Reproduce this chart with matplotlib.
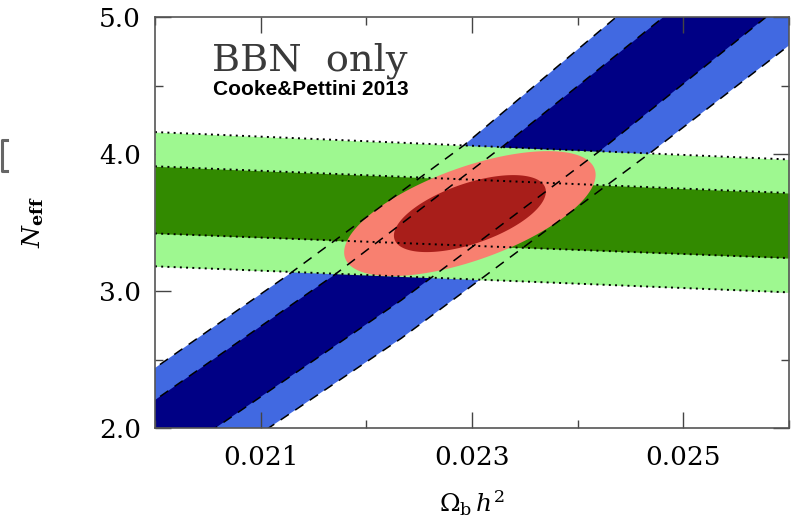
import numpy as np
import matplotlib
matplotlib.use("Agg")
import matplotlib.pyplot as plt
from matplotlib.ticker import MultipleLocator, FixedLocator
from matplotlib.lines import Line2D

# ---------------- data ----------------
# BBN (D/H) band boundaries: (Omega_b h^2, N_eff) points along each line
light_upper_x = [0.0195, 0.02000, 0.021257, 0.022924, 0.024362, 0.02475]
light_upper_y = [2.17, 2.438, 3.116, 4.064, 4.998, 5.25]
dark_upper_x = [0.0195, 0.02000, 0.021695, 0.023305, 0.024810, 0.02521]
dark_upper_y = [1.94, 2.204, 3.116, 4.064, 4.998, 5.25]
dark_lower_x = [0.0201, 0.020571, 0.022333, 0.024219, 0.025781, 0.0262]
dark_lower_y = [1.75, 2.000, 2.934, 4.028, 4.998, 5.27]
light_lower_x = [0.0205, 0.021076, 0.022333, 0.024695, 0.026038, 0.0265]
light_lower_y = [1.70, 2.000, 2.656, 4.013, 4.815, 5.11]

# Helium (Y_p) band boundaries, N_eff at x = 0.020 and x = 0.026
green_x = [0.020, 0.026]
green_light_top = [4.16, 3.96]
green_dark_top = [3.91, 3.715]
green_dark_bot = [3.42, 3.24]
green_light_bot = [3.18, 2.99]

# Combined contour ellipses: center, half-extent in x, half-extent in y, correlation
ell_center = (0.02298, 3.565)
ell95 = dict(ax=0.00119, ay=0.456, rho=0.62)
ell68 = dict(ax=0.000719, ay=0.281, rho=0.57)

xlim = (0.020, 0.026)
ylim = (2.0, 5.0)
xticks_major = [0.021, 0.023, 0.025]
xtick_labels = ["0.021", "0.023", "0.025"]
yticks_major = [2.0, 3.0, 4.0, 5.0]
ytick_labels = ["2.0", "3.0", "4.0", "5.0"]

# ---------------- colours ----------------
c_navy = "#000085"
c_royal = "#4169E1"
c_dgreen = "#328A00"
c_lgreen = "#9EF890"
c_salmon = "#F88070"
c_dred = "#A81E1A"

plt.rcParams["mathtext.fontset"] = "dejavuserif"

fig = plt.figure(figsize=(7.96, 5.24), dpi=100)
ax = fig.add_axes([155 / 796, 1 - 428 / 524, (789 - 155) / 796, (428 - 17) / 524])


def band(xu, yu, xl, yl, color):
    px = list(xu) + list(xl)[::-1]
    py = list(yu) + list(yl)[::-1]
    ax.fill(px, py, color=color, lw=0, zorder=1)


band(light_upper_x, light_upper_y, light_lower_x, light_lower_y, c_royal)
band(dark_upper_x, dark_upper_y, dark_lower_x, dark_lower_y, c_navy)

ax.fill_between(green_x, green_light_bot, green_light_top, color=c_lgreen, lw=0, zorder=2)
ax.fill_between(green_x, green_dark_bot, green_dark_top, color=c_dgreen, lw=0, zorder=2)

t = np.linspace(0, 2 * np.pi, 300)
for e, col in ((ell95, c_salmon), (ell68, c_dred)):
    ex = ell_center[0] + e["ax"] * np.cos(t)
    ey = ell_center[1] + e["ay"] * (e["rho"] * np.cos(t) + np.sqrt(1 - e["rho"] ** 2) * np.sin(t))
    ax.fill(ex, ey, color=col, lw=0, zorder=3)

dot = (0, (1.0, 2.2))
for yy in (green_light_top, green_dark_top, green_dark_bot, green_light_bot):
    ax.plot(green_x, yy, color="black", lw=1.4, ls=dot, zorder=4)

dash = (0, (6.5, 5))
for xx, yy in ((light_upper_x, light_upper_y), (dark_upper_x, dark_upper_y),
               (dark_lower_x, dark_lower_y), (light_lower_x, light_lower_y)):
    ax.plot(xx, yy, color="black", lw=1.1, ls=dash, zorder=5)

ax.set_xlim(*xlim)
ax.set_ylim(*ylim)

ax.xaxis.set_major_locator(FixedLocator(xticks_major))
ax.set_xticklabels(xtick_labels)
ax.xaxis.set_minor_locator(MultipleLocator(0.001))
ax.yaxis.set_major_locator(FixedLocator(yticks_major))
ax.set_yticklabels(ytick_labels)
ax.yaxis.set_minor_locator(MultipleLocator(0.5))

ax.tick_params(which="both", direction="in", top=True, right=True, color="#444444", width=1.0)
ax.tick_params(which="major", length=11.5, labelsize=19, pad=10)
ax.tick_params(which="minor", length=6)
ax.tick_params(axis="x", which="major", pad=12)
for lab in ax.get_xticklabels() + ax.get_yticklabels():
    lab.set_family("DejaVu Serif")

for sp in ax.spines.values():
    sp.set_color("#555555")
    sp.set_linewidth(1.2)
    sp.set_zorder(6)

ax.set_xlabel(r"$\Omega_{\rm b}\,h^{2}$", fontsize=18)
ax.xaxis.set_label_coords(0.5, -0.148)
ax.set_ylabel(r"$N_{\mathbf{eff}}$", fontsize=18)
ax.yaxis.set_label_coords(-0.172, 0.5)

ax.text(0.09, 0.871, "BBN  only", transform=ax.transAxes, fontsize=27.5,
        family="DejaVu Serif", color="#3a3a3a", zorder=7)
ax.text(0.0915, 0.810, "Cooke&Pettini 2013", transform=ax.transAxes, fontsize=15,
        family="Liberation Sans", weight="bold", color="black", zorder=7)

# cropped glyph remnant at the far left edge of the original image
bx = [7 / 796, 1.5 / 796, 1.5 / 796, 7 / 796]
by = [1 - 140 / 524, 1 - 140 / 524, 1 - 171 / 524, 1 - 171 / 524]
fig.add_artist(Line2D(bx, by, transform=fig.transFigure, color="#666666", lw=2.2))

fig.savefig("out.png", dpi=100)
